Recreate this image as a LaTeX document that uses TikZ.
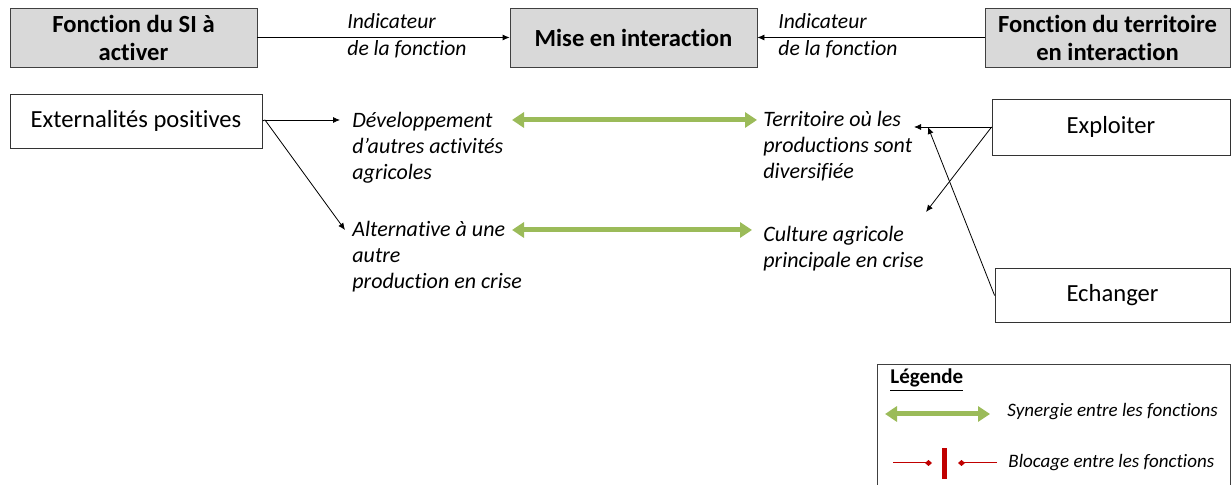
\documentclass[tikz,border=0pt]{standalone}
\usepackage{fontspec}
\setmainfont[Ligatures=NoCommon]{Carlito}
\usetikzlibrary{arrows.meta}
\definecolor{boxgray}{HTML}{D9D9D9}
\definecolor{synergreen}{HTML}{9BBB59}
\definecolor{blockred}{HTML}{C00000}

\begin{document}
\begin{tikzpicture}[x=0.5pt, y=-0.5pt,
    titlebox/.style={draw=black!75, fill=boxgray, font=\fontsize{12.3}{14}\selectfont\bfseries, align=center, inner sep=0pt, minimum width=123.5pt, minimum height=29.5pt},
    fnbox/.style={draw=black!80, font=\fontsize{12.3}{14}\selectfont, inner sep=0pt, minimum height=27pt},
    fntext/.style={font=\fontsize{11}{13}\selectfont\itshape, align=left, inner sep=0pt, anchor=north west},
    indic/.style={font=\fontsize{10.8}{13.5}\selectfont\itshape, align=left, inner sep=0pt, anchor=north west},
    legtext/.style={font=\fontsize{9.5}{11}\selectfont\itshape, inner sep=0pt, anchor=west},
    link/.style={-{Latex[length=3.5pt,width=3pt]}, black, line width=0.4pt},
    synergy/.style={{Triangle[length=6pt,width=7.5pt]}-{Triangle[length=6pt,width=7.5pt]}, synergreen, line width=2.5pt},
    blockline/.style={blockred, line width=0.5pt, -{Diamond[length=3.5pt,width=3pt]}}
  ]
  \useasboundingbox (0,0) rectangle (1231,485);

  % top row
  \node[titlebox] (si) at (133.5,37.5) {Fonction du SI à\\activer};
  \node[titlebox] (mise) at (633.5,37.5) {Mise en interaction};
  \node[titlebox, minimum width=122.5pt] (terrfn) at (1107.5,37.5) {Fonction du territoire\\en interaction};
  \draw[link] (si.east) -- (mise.west);
  \draw[link] (terrfn.west) -- (mise.east);
  \node[indic] (indl) at (347,13) {Indicateur\\de la fonction};
  \node[indic] (indr) at (778,13) {Indicateur\\de la fonction};

  % functions of SI
  \node[fnbox, minimum width=126pt] (ext) at (136,121) {Externalités positives};
  \node[fntext] (dev) at (352,112) {Développement\\d’autres activités\\agricoles};
  \node[fntext] (alt) at (352,221) {Alternative à une\\autre\\production en crise};

  % functions of territory
  \node[fntext] (terr) at (763,111) {Territoire où les\\productions sont\\diversifiée};
  \node[fntext] (cult) at (763,226) {Culture agricole\\principale en crise};
  \node[fnbox, minimum width=119pt, minimum height=28pt] (expl) at (1111,127) {Exploiter};
  \node[fnbox, minimum width=117.5pt] (ech) at (1112.5,295.5) {Echanger};

  \coordinate (fork) at (265,120);
  \coordinate (devin) at (340,120);
  \coordinate (altin) at (345,230);
  \coordinate (terrin) at (914,127);
  \coordinate (cultin) at (926,212);
  \coordinate (terrin2) at (928,127);

  \draw (ext.east) -- (fork);
  \draw[link] (fork) -- (devin);
  \draw[link] (fork) -- (altin);
  \draw[link] (expl.west) -- (terrin);
  \draw[link] (expl.west) -- (cultin);
  \draw[link] (ech.west) -- (terrin2);

  % synergies
  \draw[synergy] (512,120) -- (757,120);
  \draw[synergy] (512,230) -- (752,230);

  % legend
  \draw[black!75] (877,364) rectangle (1230,490);
  \node[font=\fontsize{10.5}{12}\selectfont\bfseries, inner sep=0pt, anchor=west] (leg) at (890,380) {\underline{Légende}};
  \draw[synergy] (885,414) -- (990,414);
  \node[legtext] (syn) at (1007,412) {Synergie entre les fonctions};
  \draw[blockline] (893,463) -- (932,463);
  \fill[blockred] (942,448) rectangle (947,479);
  \draw[blockline] (997,463) -- (958,463);
  \node[legtext] (blo) at (1008,463) {Blocage entre les fonctions};
\end{tikzpicture}
\end{document}
